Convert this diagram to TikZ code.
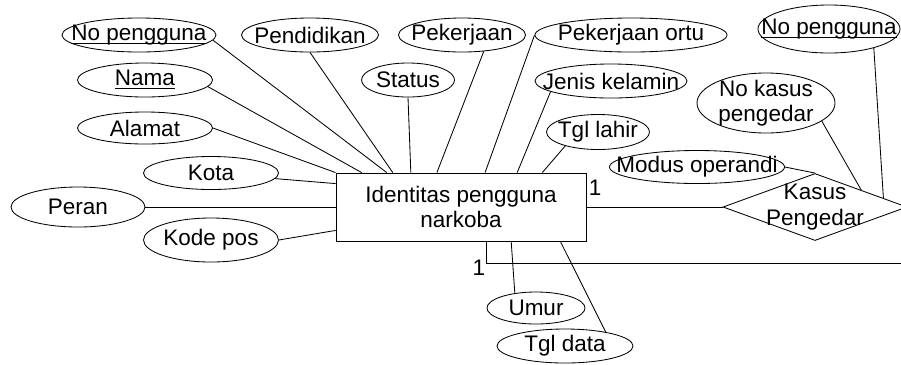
\documentclass[tikz,border=0pt]{standalone}
\usepackage{amsmath}
\usepackage{fontspec}
\setmainfont{Liberation Sans}
\usetikzlibrary{shapes.geometric, calc}

\newcommand{\kunci}[1]{\underline{\smash[b]{#1}}}

\begin{document}
\begin{tikzpicture}[x=0.025cm, y=-0.025cm, line width=0.6pt,
    font=\fontsize{16}{18}\selectfont,
    attr/.style={ellipse, draw, align=center, inner xsep=-14pt, inner ysep=-3pt, minimum height=0.85cm},
    entitas/.style={rectangle, draw, align=center, inner sep=0pt, minimum width=6.25cm, minimum height=1.7cm},
    relasi/.style={diamond, draw, align=center, inner xsep=-20pt, inner ysep=-12pt, minimum width=4.6cm, minimum height=1.675cm},
    kard/.style={inner sep=0pt}]
    \useasboundingbox (0,0) rectangle (901,364);

    % Entitas dan relasi
    \node[entitas] (id) at (461,207) {Identitas pengguna\\narkoba};
    \node[relasi] (kasus) at (815,207) {Kasus\\Pengedar};

    % Atribut pengguna
    \node[attr, minimum width=3.85cm] (nopeng) at (139,35) {\kunci{No pengguna}};
    \node[attr, minimum width=3.425cm] (pend) at (310,35) {Pendidikan};
    \node[attr, minimum width=3.175cm] (pek) at (462,35) {Pekerjaan};
    \node[attr, minimum width=4.8cm] (pekortu) at (631,35) {Pekerjaan ortu};
    \node[attr, minimum width=3.375cm] (nama) at (145,80) {\kunci{Nama}};
    \node[attr, minimum width=2.325cm] (status) at (408,80) {Status};
    \node[attr, minimum width=3.8cm] (jk) at (611,81) {Jenis kelamin};
    \node[attr, minimum width=3.375cm, minimum height=0.8cm] (alamat) at (145,128) {Alamat};
    \node[attr, minimum width=2.575cm, minimum height=0.875cm] (tgllahir) at (598,132) {Tgl lahir};
    \node[attr, minimum width=3.375cm, minimum height=0.825cm] (kota) at (211,173) {Kota};
    \node[attr, minimum width=3.35cm, minimum height=1cm] (peran) at (78,207) {Peran};
    \node[attr, minimum width=3.375cm, minimum height=1.1cm] (kodepos) at (211,240) {Kode pos};
    \node[attr, minimum width=2.45cm, minimum height=0.8cm] (umur) at (536,308) {Umur};
    \node[attr, minimum width=3.4cm] (tgldata) at (565,346) {Tgl data};

    % Atribut kasus
    \node[attr, minimum width=4.375cm, minimum height=0.825cm] (modus) at (697,167) {Modus operandi};
    \node[attr, minimum width=3.45cm, minimum height=1.5cm] (nokasus) at (766,103) {No kasus\\pengedar};
    \node[attr, minimum width=3.55cm, minimum height=1.2cm] (nopeng2) at (829,29) {\kunci{No pengguna}};

    % Kardinalitas
    \node[kard] (k1) at (595,188) {1};
    \node[kard] (k2) at (479,268) {1};

    % Garis atribut
    \draw (nopeng.-4) -- ($(id.north west)!0.204!(id.north east)$);
    \draw (nama.-6) -- ($(id.north west)!0.104!(id.north east)$);
    \draw (alamat.east) -- (id.north west);
    \draw (pend.south) -- ($(id.north west)!0.228!(id.north east)$);
    \draw (status.south) -- ($(id.north west)!0.3!(id.north east)$);
    \draw (pek.-37) -- ($(id.north west)!0.404!(id.north east)$);
    \draw (pekortu.west) -- ($(id.north west)!0.596!(id.north east)$);
    \draw (jk.190) -- ($(id.north west)!0.724!(id.north east)$);
    \draw (tgllahir.203) -- ($(id.north west)!0.824!(id.north east)$);
    \draw (kota.-5) -- ($(id.north west)!0.16!(id.south west)$);
    \draw (peran.east) -- (id.west);
    \draw (kodepos.east) -- ($(id.north west)!0.84!(id.south west)$);
    \draw (umur.145) -- ($(id.south west)!0.7!(id.south east)$);
    \draw (tgldata.19) -- ($(id.south west)!0.896!(id.south east)$);
    \draw (modus.east) -- (kasus.north);
    \draw (nokasus.-18) -- ($(kasus.north)!0.5!(kasus.east)$);
    \draw (nopeng2.-23) -- ($(kasus.north)!0.74!(kasus.east)$);

    % Garis relasi
    \draw (id.east) -- (kasus.west);
    \coordinate (ujung) at (901,263);
    \draw ($(id.south west)!0.6!(id.south east)$) |- (ujung);
\end{tikzpicture}
\end{document}
